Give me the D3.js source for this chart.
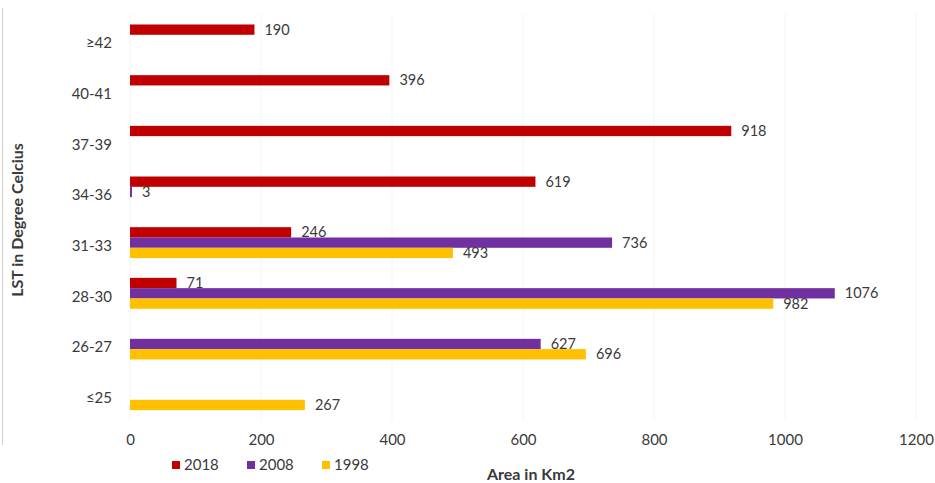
<!DOCTYPE html>
<html><head><meta charset="utf-8">
<script src="https://cdn.jsdelivr.net/npm/d3@7/dist/d3.min.js"></script>
<style>body{margin:0;background:#fff}text{font-family:Lato,"Open Sans",sans-serif;fill:#3a3a3a}</style>
</head><body><svg id="c" width="935" height="483"></svg>
<script>
const categories = ["≥42","40-41","37-39","34-36","31-33","28-30","26-27","≤25"];
const seriesNames = ["2018","2008","1998"];
const v2018 = [190,396,918,619,246,71,null,null];
const v2008 = [null,null,null,3,736,1076,627,null];
const v1998 = [null,null,null,null,493,982,696,267];
const xTicks = [0,200,400,600,800,1000,1200];
const colors = ["#C00000","#7030A0","#FFC000"];
const seriesVals = [v2018,v2008,v1998];

const svg = d3.select("#c");
const x = d3.scaleLinear().domain([0,1200]).range([130,916]);
const y = d3.scaleBand().domain(categories).range([14.6,420]).paddingInner(0.39).paddingOuter(0.195);
const ys = d3.scaleBand().domain(seriesNames).range([0,y.bandwidth()]);

svg.append("line").attr("x1",2.5).attr("x2",2.5).attr("y1",8).attr("y2",445).attr("stroke","#d0d0d0");

svg.append("g").selectAll("line").data(xTicks).join("line")
  .attr("x1",d=>x(d)).attr("x2",d=>x(d)).attr("y1",14).attr("y2",420)
  .attr("stroke","#f4f4f4").attr("stroke-width",1);

const xa = svg.append("g").attr("transform","translate(0,420)")
  .call(d3.axisBottom(x).tickValues(xTicks).tickFormat(d3.format("d")).tickSize(0).tickPadding(14));
xa.select(".domain").remove();
xa.selectAll("text").attr("font-size",15).attr("fill","#3a3a3a").style("font-family","Lato,'Open Sans',sans-serif");

const ya = svg.append("g").attr("transform","translate(112,0)")
  .call(d3.axisLeft(y).tickSize(0).tickPadding(0));
ya.select(".domain").remove();
ya.selectAll("text").attr("font-size",15).attr("fill","#3a3a3a").attr("dy","0.55em").style("font-family","Lato,'Open Sans',sans-serif");

seriesNames.forEach((s,i)=>{
  const data = categories.map((c,j)=>({c,v:seriesVals[i][j]})).filter(d=>d.v!==null);
  const g = svg.append("g");
  g.selectAll("rect").data(data).join("rect")
    .attr("x",x(0)).attr("y",d=>y(d.c)+ys(s)).attr("width",d=>x(d.v)-x(0)).attr("height",ys.bandwidth())
    .attr("fill",colors[i]);
  g.selectAll("text").data(data).join("text")
    .attr("x",d=>x(d.v)+10).attr("y",d=>y(d.c)+ys(s)+ys.bandwidth()/2).attr("dy","0.35em")
    .attr("font-size",14.5).text(d=>d.v);
});

svg.append("text").attr("transform","translate(23,220) rotate(-90)").attr("text-anchor","middle")
  .attr("font-size",16).attr("font-weight","bold").text("LST in Degree Celcius");
svg.append("text").attr("x",531).attr("y",480).attr("text-anchor","middle")
  .attr("font-size",16).attr("font-weight","bold").text("Area in Km2");

const lx = [172,247,322];
const lg = svg.append("g");
seriesNames.forEach((s,i)=>{
  lg.append("rect").attr("x",lx[i]).attr("y",461).attr("width",8).attr("height",8).attr("fill",colors[i]);
  lg.append("text").attr("x",lx[i]+12).attr("y",465).attr("dy","0.35em").attr("font-size",15).text(s);
});
</script></body></html>
